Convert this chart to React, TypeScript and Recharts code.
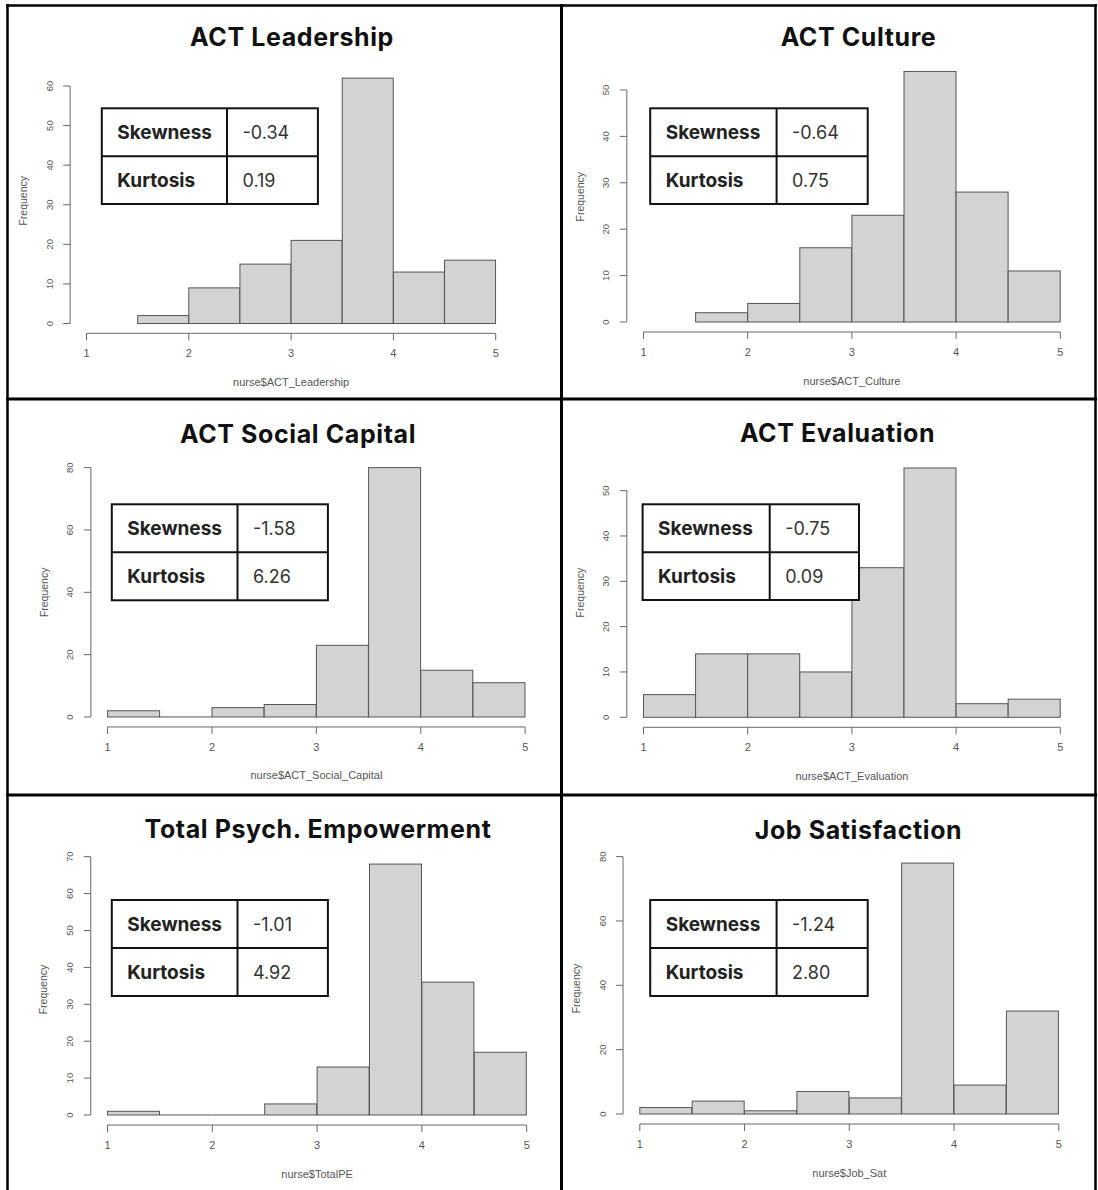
import React from 'react';
import { ComposedChart, Bar, XAxis, YAxis, ReferenceLine } from 'recharts';

// ---------- data ----------
const binStarts = [1, 1.5, 2, 2.5, 3, 3.5, 4, 4.5];
const binWidth = 0.5;
const xTicks = [1, 2, 3, 4, 5];

const leadershipCounts = [null, 2, 9, 15, 21, 62, 13, 16];
const cultureCounts = [null, 2, 4, 16, 23, 54, 28, 11];
const socialCapitalCounts = [2, 0, 3, 4, 23, 80, 15, 11];
const evaluationCounts = [5, 14, 14, 10, 33, 55, 3, 4];
const totalPECounts = [1, 0, 0, 3, 13, 68, 36, 17];
const jobSatCounts = [2, 4, 1, 7, 5, 78, 9, 32];

const leadershipYTicks = [0, 10, 20, 30, 40, 50, 60];
const cultureYTicks = [0, 10, 20, 30, 40, 50];
const socialCapitalYTicks = [0, 20, 40, 60, 80];
const evaluationYTicks = [0, 10, 20, 30, 40, 50];
const totalPEYTicks = [0, 10, 20, 30, 40, 50, 60, 70];
const jobSatYTicks = [0, 20, 40, 60, 80];

const panelTitles = [
  'ACT Leadership',
  'ACT Culture',
  'ACT Social Capital',
  'ACT Evaluation',
  'Total Psych. Empowerment',
  'Job Satisfaction',
];
const panelXLabels = [
  'nurse$ACT_Leadership',
  'nurse$ACT_Culture',
  'nurse$ACT_Social_Capital',
  'nurse$ACT_Evaluation',
  'nurse$TotalPE',
  'nurse$Job_Sat',
];
const skewnessValues = ['-0.34', '-0.64', '-1.58', '-0.75', '-1.01', '-1.24'];
const kurtosisValues = ['0.19', '0.75', '6.26', '0.09', '4.92', '2.80'];

const panelCounts = [leadershipCounts, cultureCounts, socialCapitalCounts, evaluationCounts, totalPECounts, jobSatCounts];
const panelYTicks = [leadershipYTicks, cultureYTicks, socialCapitalYTicks, evaluationYTicks, totalPEYTicks, jobSatYTicks];

// ---------- layout (page pixels) ----------
const chartLayout = [
  { cellLeft: 0, cellTop: 0, x1: 86.5, ppu: 102.3, y0: 323.5, ppc: 3.958 },
  { cellLeft: 561, cellTop: 0, x1: 643.5, ppu: 104.2, y0: 322, ppc: 4.64 },
  { cellLeft: 0, cellTop: 399, x1: 107.6, ppu: 104.4, y0: 717, ppc: 3.117 },
  { cellLeft: 561, cellTop: 399, x1: 643.5, ppu: 104.2, y0: 717.3, ppc: 4.533 },
  { cellLeft: 0, cellTop: 795, x1: 107.5, ppu: 104.8, y0: 1115, ppc: 3.69 },
  { cellLeft: 561, cellTop: 795, x1: 639.8, ppu: 104.75, y0: 1114, ppc: 3.217 },
];
const titleLayout = [
  { cx: 292, base: 45.6 },
  { cx: 858.5, base: 45.7 },
  { cx: 298, base: 443.3 },
  { cx: 837.5, base: 441.7 },
  { cx: 318, base: 838.3 },
  { cx: 858.5, base: 839 },
];
const tableLayout = [
  { x: 101.8, y: 108.3, w: 216.1, h: 95.7, div: 227 },
  { x: 650.2, y: 108.3, w: 217.5, h: 95.7, div: 776.6 },
  { x: 111.8, y: 504.3, w: 216.1, h: 96, div: 237.5 },
  { x: 642.6, y: 504.3, w: 216.4, h: 95.7, div: 769.7 },
  { x: 111.8, y: 900, w: 216.1, h: 96, div: 237.5 },
  { x: 650.2, y: 900, w: 217.5, h: 96, div: 776.6 },
];

const AXIS_FONT = '"Liberation Sans", Arial, sans-serif';
const UI_FONT = 'Inter, "Noto Sans", sans-serif';
const AXIS_COLOR = '#666';
const TEXT_COLOR = '#555';

const HistBar = (props: any) => {
  const { x, y, width, height, payload } = props;
  if (!payload || payload.count == null) return <g />;
  if (!height) {
    return <line x1={x} x2={x + width} y1={y} y2={y} stroke="#555" strokeWidth={1} />;
  }
  return <rect x={x} y={y} width={width} height={height} fill="#d3d3d3" stroke="#555" strokeWidth={1} />;
};

const RotatedYTick = (props: any) => {
  const { x, y, payload } = props;
  return (
    <text
      x={x}
      y={y}
      transform={`rotate(-90 ${x} ${y})`}
      textAnchor="middle"
      fontSize={9.5}
      fill={TEXT_COLOR}
      fontFamily={AXIS_FONT}
    >
      {payload.value}
    </text>
  );
};

function Histogram({ index }: { index: number }) {
  const counts = panelCounts[index];
  const yTicks = panelYTicks[index];
  const L = chartLayout[index];
  const data = binStarts.map((s, i) => ({ bin: s + binWidth / 2, count: counts[i] }));
  const valid = counts.filter((c) => c != null) as number[];
  const ymax = Math.max(...valid);
  const yMin = -0.04 * ymax;
  const yMax = 1.04 * ymax;
  const xFirst = xTicks[0];
  const xLast = xTicks[xTicks.length - 1];
  const xMin = xFirst - 0.04 * (xLast - xFirst);
  const xMax = xLast + 0.04 * (xLast - xFirst);

  const plotLeft = L.x1 + (xMin - xFirst) * L.ppu;
  const plotRight = L.x1 + (xMax - xFirst) * L.ppu;
  const plotTop = L.y0 - yMax * L.ppc;
  const plotBottom = L.y0 - yMin * L.ppc;
  const xAxisH = 62;
  const rightM = 8;
  const width = plotRight - L.cellLeft + rightM;
  const height = plotBottom - L.cellTop + xAxisH;
  const yAxisW = plotLeft - L.cellLeft;
  const pad = (xFirst - xMin) * L.ppu;

  return (
    <div style={{ position: 'absolute', left: L.cellLeft, top: L.cellTop }}>
      <ComposedChart
        width={width}
        height={height}
        data={data}
        margin={{ top: plotTop - L.cellTop, right: rightM, bottom: 0, left: 0 }}
        barCategoryGap={0}
        barGap={0}
      >
        <XAxis
          xAxisId="bins"
          dataKey="bin"
          type="category"
          hide
          height={0}
          padding={{ left: pad, right: pad }}
        />
        <XAxis
          xAxisId="num"
          dataKey="bin"
          type="number"
          domain={[xMin, xMax]}
          ticks={xTicks}
          allowDataOverflow
          interval={0}
          axisLine={false}
          tickSize={7}
          tickMargin={9}
          height={xAxisH}
          tickLine={{ stroke: AXIS_COLOR }}
          tick={{ fontSize: 11, fill: TEXT_COLOR, fontFamily: AXIS_FONT }}
          label={{
            value: panelXLabels[index],
            position: 'insideBottom',
            offset: 9.5,
            fontSize: 11,
            fill: TEXT_COLOR,
            fontFamily: AXIS_FONT,
          }}
        />
        <YAxis
          type="number"
          domain={[yMin, yMax]}
          ticks={yTicks}
          allowDataOverflow
          interval={0}
          width={yAxisW}
          axisLine={false}
          tickSize={7}
          tickMargin={10.5}
          tickLine={{ stroke: AXIS_COLOR }}
          tick={<RotatedYTick />}
          label={{
            value: 'Frequency',
            angle: -90,
            position: 'insideLeft',
            offset: yAxisW - 47,
            fontSize: 10.5,
            fill: TEXT_COLOR,
            fontFamily: AXIS_FONT,
            style: { textAnchor: 'middle' },
          }}
        />
        <Bar xAxisId="bins" dataKey="count" shape={HistBar} isAnimationActive={false} />
        <ReferenceLine
          xAxisId="num"
          ifOverflow="visible"
          segment={[{ x: xFirst, y: yMin }, { x: xLast, y: yMin }]}
          stroke={AXIS_COLOR}
          strokeWidth={1}
        />
        <ReferenceLine
          xAxisId="num"
          ifOverflow="visible"
          segment={[{ x: xMin, y: yTicks[0] }, { x: xMin, y: yTicks[yTicks.length - 1] }]}
          stroke={AXIS_COLOR}
          strokeWidth={1}
        />
      </ComposedChart>
    </div>
  );
}

function Overlay() {
  return (
    <svg
      width={1098}
      height={1190}
      style={{ position: 'absolute', left: 0, top: 0, pointerEvents: 'none' }}
    >
      <line x1={6} x2={1097} y1={5.5} y2={5.5} stroke="#000" strokeWidth={2.5} />
      <line x1={7.5} x2={7.5} y1={4} y2={1190} stroke="#000" strokeWidth={2.5} />
      <line x1={1095.5} x2={1095.5} y1={4} y2={1190} stroke="#000" strokeWidth={2.5} />
      <line x1={561.5} x2={561.5} y1={4} y2={1190} stroke="#000" strokeWidth={3} />
      <line x1={6} x2={1097} y1={399} y2={399} stroke="#000" strokeWidth={3} />
      <line x1={6} x2={1097} y1={795} y2={795} stroke="#000" strokeWidth={3} />

      {panelTitles.map((t, i) => (
        <text
          key={`t${i}`}
          x={titleLayout[i].cx}
          y={titleLayout[i].base}
          textAnchor="middle"
          fontFamily={UI_FONT}
          fontWeight={700}
          fontSize={25}
          letterSpacing={0.6}
          fill="#111"
        >
          {t}
        </text>
      ))}

      {tableLayout.map((tb, i) => {
        const mid = tb.y + tb.h / 2;
        return (
          <g key={`tb${i}`}>
            <rect x={tb.x} y={tb.y} width={tb.w} height={tb.h} fill="#fff" stroke="#111" strokeWidth={2} />
            <line x1={tb.div} x2={tb.div} y1={tb.y} y2={tb.y + tb.h} stroke="#111" strokeWidth={2} />
            <line x1={tb.x} x2={tb.x + tb.w} y1={mid} y2={mid} stroke="#111" strokeWidth={2} />
            <text x={tb.x + 15.5} y={(tb.y + mid) / 2 + 7} fontFamily={UI_FONT} fontWeight={700} fontSize={19} fill="#222">
              Skewness
            </text>
            <text x={tb.div + 15.5} y={(tb.y + mid) / 2 + 7} fontFamily={UI_FONT} fontSize={18} fill="#333">
              {skewnessValues[i]}
            </text>
            <text x={tb.x + 15.5} y={(mid + tb.y + tb.h) / 2 + 7} fontFamily={UI_FONT} fontWeight={700} fontSize={19} fill="#222">
              Kurtosis
            </text>
            <text x={tb.div + 15.5} y={(mid + tb.y + tb.h) / 2 + 7} fontFamily={UI_FONT} fontSize={18} fill="#333">
              {kurtosisValues[i]}
            </text>
          </g>
        );
      })}
    </svg>
  );
}

export default function App() {
  return (
    <div style={{ position: 'absolute', left: 0, top: 0, width: 1098, height: 1190, background: '#fff' }}>
      {panelCounts.map((_, i) => (
        <Histogram key={i} index={i} />
      ))}
      <Overlay />
    </div>
  );
}
